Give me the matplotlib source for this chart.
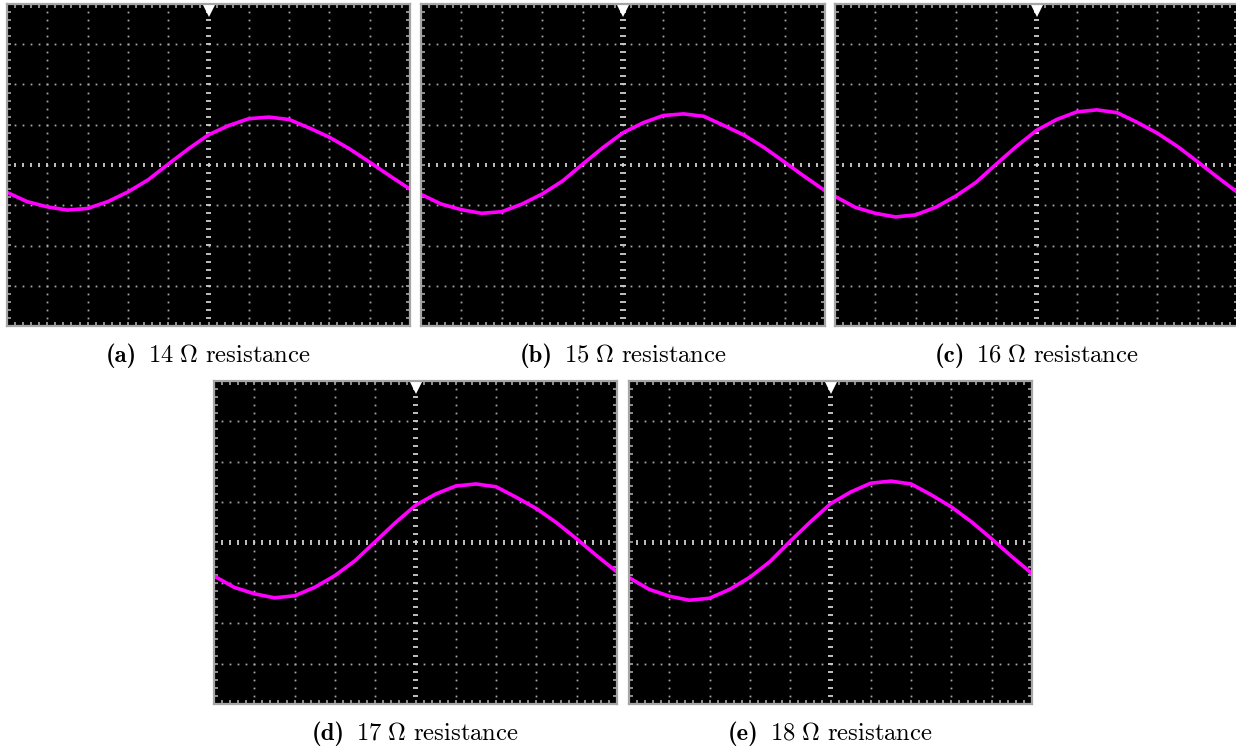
import numpy as np
import matplotlib.pyplot as plt

plt.rcParams['mathtext.fontset'] = 'cm'

# trace samples (screen divisions) at every half division from -5 to +5
x_div = [-5.0, -4.5, -4.0, -3.5, -3.0, -2.5, -2.0, -1.5, -1.0, -0.5, 0.0,
         0.5, 1.0, 1.5, 2.0, 2.5, 3.0, 3.5, 4.0, 4.5, 5.0]
trace_14 = [-0.68, -0.91, -1.04, -1.12, -1.08, -0.91, -0.67, -0.37, 0.02, 0.40, 0.75,
            0.98, 1.15, 1.19, 1.13, 0.92, 0.69, 0.40, 0.07, -0.27, -0.60]
trace_15 = [-0.73, -0.97, -1.11, -1.20, -1.16, -0.97, -0.72, -0.40, 0.02, 0.43, 0.80,
            1.05, 1.23, 1.27, 1.21, 0.98, 0.74, 0.43, 0.07, -0.29, -0.64]
trace_16 = [-0.78, -1.05, -1.20, -1.29, -1.24, -1.05, -0.77, -0.43, 0.02, 0.46, 0.86,
            1.13, 1.32, 1.37, 1.30, 1.06, 0.79, 0.46, 0.08, -0.31, -0.69]
trace_17 = [-0.83, -1.11, -1.27, -1.37, -1.32, -1.11, -0.82, -0.45, 0.02, 0.49, 0.92,
            1.20, 1.40, 1.45, 1.38, 1.12, 0.84, 0.49, 0.09, -0.33, -0.73]
trace_18 = [-0.87, -1.16, -1.33, -1.43, -1.38, -1.16, -0.86, -0.47, 0.03, 0.51, 0.96,
            1.25, 1.47, 1.52, 1.45, 1.18, 0.88, 0.51, 0.09, -0.35, -0.77]

labels = ["(a)", "(b)", "(c)", "(d)", "(e)"]
resistances = [14, 15, 16, 17, 18]
traces = [trace_14, trace_15, trace_16, trace_17, trace_18]

W, H = 1236, 753
# screen boxes in pixels: left, top, width, height
boxes = [(7, 4, 403, 322), (421, 4, 404, 322), (835, 4, 403, 322),
         (214, 381, 403, 323), (629, 381, 403, 323)]

GRID = '#a6a6a6'
DASH = '#d0d0d0'
FS = 17.8


def draw_screen(ax, trace):
    ax.set_facecolor('black')
    ax.set_xlim(-5, 5)
    ax.set_ylim(-4, 4)
    ax.set_xticks([])
    ax.set_yticks([])
    for s in ax.spines.values():
        s.set_color(GRID)
        s.set_linewidth(1.6)

    fine_x = np.arange(-5, 5.001, 0.2)
    fine_y = np.arange(-4, 4.001, 0.2)

    # dotted graticule
    for gx in range(-4, 5):
        if gx == 0:
            continue
        ax.plot(np.full_like(fine_y, gx), fine_y, ls='none', marker='s',
                ms=1.3, mew=0, color=GRID)
    for gy in range(-3, 4):
        if gy == 0:
            continue
        ax.plot(fine_x, np.full_like(fine_x, gy), ls='none', marker='s',
                ms=1.3, mew=0, color=GRID)

    # centre axes with minor ticks
    ax.hlines(fine_y, -0.07, 0.07, color=DASH, lw=1.3)
    ax.vlines(fine_x, -0.06, 0.06, color=DASH, lw=1.3)

    # edge ticks
    ax.vlines(fine_x, 3.9, 4, color=GRID, lw=1.2)
    ax.vlines(fine_x, -4, -3.9, color=GRID, lw=1.2)
    ax.hlines(fine_y, -5, -4.9, color=GRID, lw=1.2)
    ax.hlines(fine_y, 4.9, 5, color=GRID, lw=1.2)

    # trigger position marker
    ax.plot(0, 3.82, marker='v', ms=9, color='white', mew=0, clip_on=False)

    ax.plot(x_div, trace, color='#ff00ff', lw=2.6, solid_joinstyle='round')


fig = plt.figure(figsize=(W / 100, H / 100), dpi=100)
captions = []
for (l, t, w, h), trace, lab, r in zip(boxes, traces, labels, resistances):
    ax = fig.add_axes([l / W, 1 - (t + h) / H, w / W, h / H])
    draw_screen(ax, trace)
    cx = l + w / 2
    cy = t + h + 29
    t1 = fig.text(0, 0, lab, fontfamily='cmb10', fontsize=FS,
                  ha='left', va='baseline')
    t2 = fig.text(0, 0, r"$%d\ \Omega\ \mathrm{resistance}$" % r, fontsize=FS,
                  ha='left', va='baseline')
    captions.append((cx, cy, t1, t2))

# centre each caption as "bold tag + plain text"
renderer = fig.canvas.get_renderer()
gap = 11
for cx, cy, t1, t2 in captions:
    w1 = t1.get_window_extent(renderer).width
    w2 = t2.get_window_extent(renderer).width
    x0 = cx - (w1 + gap + w2) / 2
    base = cy + 7
    t1.set_position((x0 / W, 1 - base / H))
    t2.set_position(((x0 + w1 + gap) / W, 1 - base / H))

fig.savefig('out.png', dpi=100, facecolor='white')
